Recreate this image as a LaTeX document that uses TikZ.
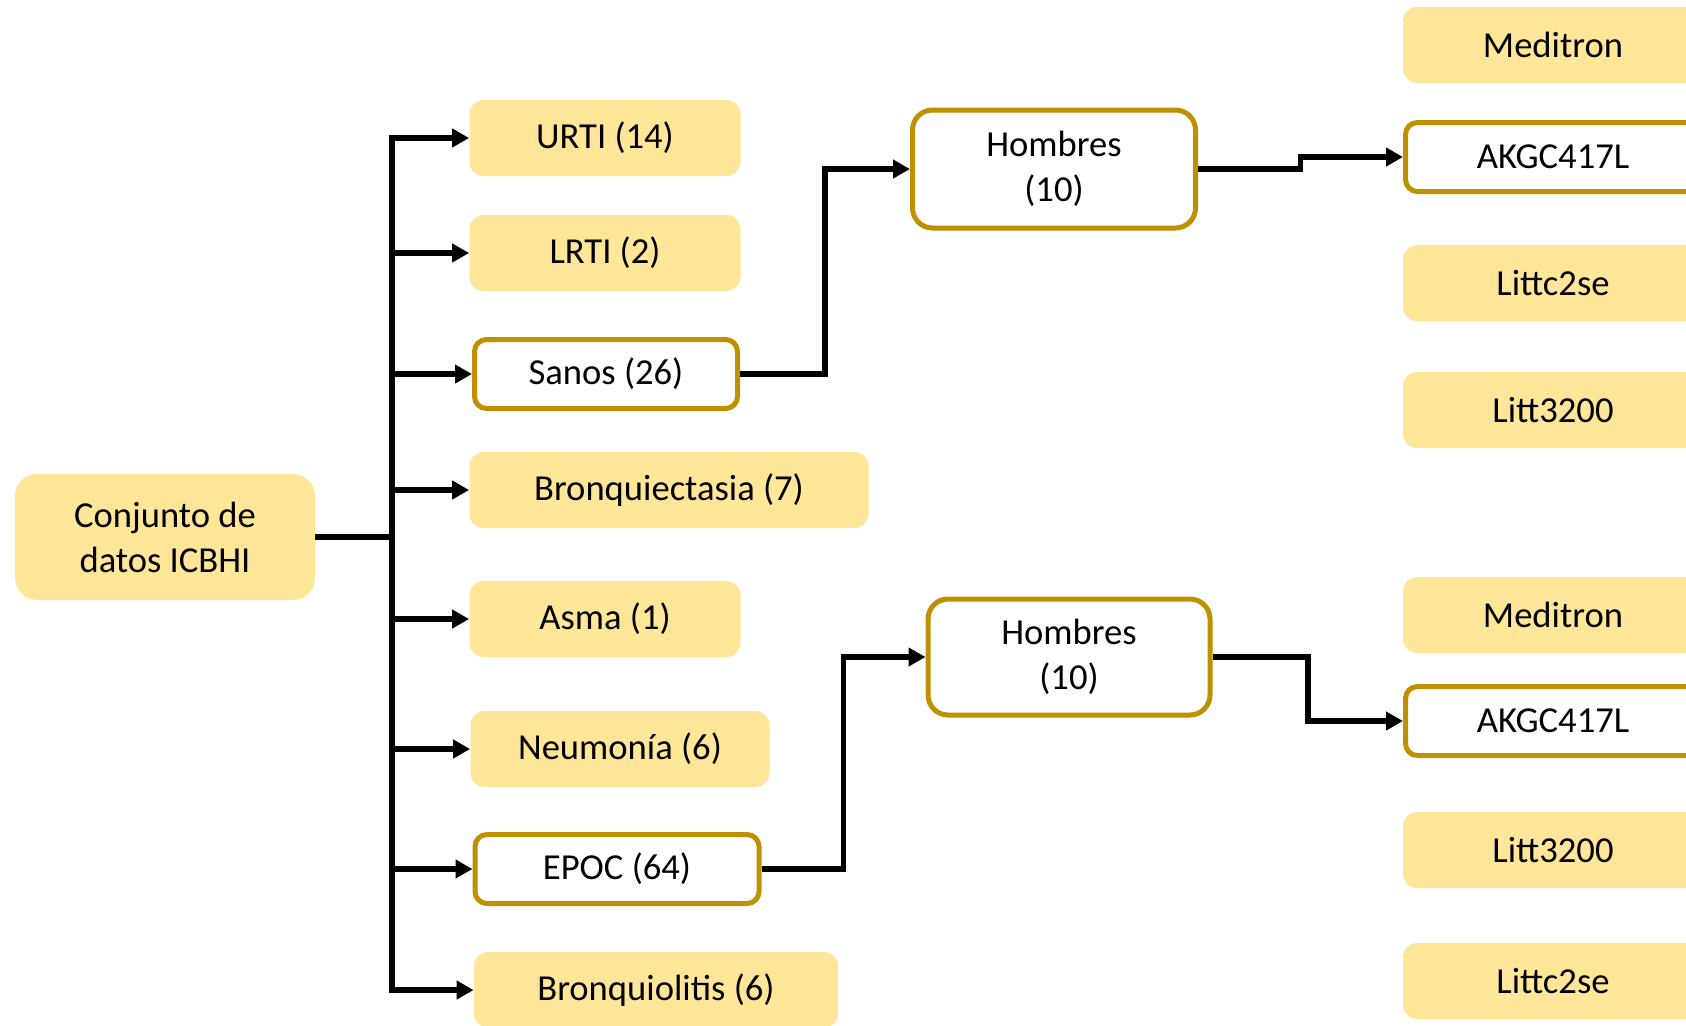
\documentclass[tikz,border=0pt]{standalone}
\usepackage{fontspec}
\setmainfont{Carlito}
\usetikzlibrary{arrows.meta,calc}

\definecolor{boxfill}{HTML}{FFE699}
\definecolor{boxline}{HTML}{BF9000}
\tikzstyle{group}=[rectangle,rounded corners=7pt,fill=boxfill,minimum height=38pt,inner sep=0pt,align=center]
\tikzstyle{selected group}=[rectangle,rounded corners=6pt,draw=boxline,line width=2.5pt,fill=white,minimum height=34.5pt,inner sep=0pt,align=center]
\tikzstyle{edge}=[draw,line width=2.8pt,-{Triangle[length=8.5pt,width=9pt]}]

\begin{document}
\begin{tikzpicture}[x=0.5pt,y=-0.5pt,font=\fontsize{18.3}{22.5}\selectfont]
\useasboundingbox (0,0) rectangle (1686,1025);
\clip (0,0) rectangle (1686,1025);
\node[group,minimum width=150pt,minimum height=63pt,rounded corners=11pt] (root) at (165,537) {Conjunto de\\datos ICBHI};
\coordinate (trunk) at (392,537);
\foreach \pos/\name/\boxw/\txt/\isselected in {{(605,138)/urti/135.5/URTI (14)/0},
    {(605,253)/lrti/135.5/LRTI (2)/0}, {(606,374)/sanos/131.5/Sanos (26)/1},
    {(669,490)/bronq/199.5/Bronquiectasia (7)/0}, {(605,619)/asma/135.5/Asma (1)/0},
    {(620,749)/neum/149.5/Neumonía (6)/0}, {(617,869)/epoc/142/EPOC (64)/1},
    {(656,990)/bronql/182/Bronquiolitis (6)/0}}{
  \ifnum\isselected=0
  \node[group,minimum width=\boxw pt] (\name) at \pos {\txt};
  \else
  \node[selected group,minimum width=\boxw pt] (\name) at \pos {\txt};
  \fi
  \path[edge] (root.east) -- (trunk) |- (\name.west);
}
\node[selected group,minimum width=141.5pt,minimum height=59pt,rounded corners=10pt] (hom1) at (1054,169) {Hombres\\(10)};
\node[selected group,minimum width=141pt,minimum height=58pt,rounded corners=10pt] (hom2) at (1069,657) {Hombres\\(10)};
\foreach \pos/\name/\txt/\isselected in {{(1553,45)/med1/Meditron/0},
    {(1553,157)/akgc1/AKGC417L/1}, {(1553,283)/littc1/Littc2se/0},
    {(1553,410)/litt1/Litt3200/0}, {(1553,615)/med2/Meditron/0},
    {(1553,721)/akgc2/AKGC417L/1}, {(1553,850)/litt2/Litt3200/0},
    {(1553,981)/littc2/Littc2se/0}}{
  \ifnum\isselected=0
  \node[group,minimum width=150pt] (\name) at \pos {\txt};
  \else
  \node[selected group,minimum width=147.5pt] (\name) at \pos {\txt};
  \fi
}
\path[edge] (sanos.east) -| ($(sanos.east)!.5!(hom1.west)$) |- (hom1.west);
\path[edge] (epoc.east) -| ($(epoc.east)!.5!(hom2.west)$) |- (hom2.west);
\path[edge] (hom1.east) -| ($(hom1.east)!.5!(akgc1.west)$) |- (akgc1.west);
\path[edge] (hom2.east) -| ($(hom2.east)!.5!(akgc2.west)$) |- (akgc2.west);
\end{tikzpicture}
\end{document}
